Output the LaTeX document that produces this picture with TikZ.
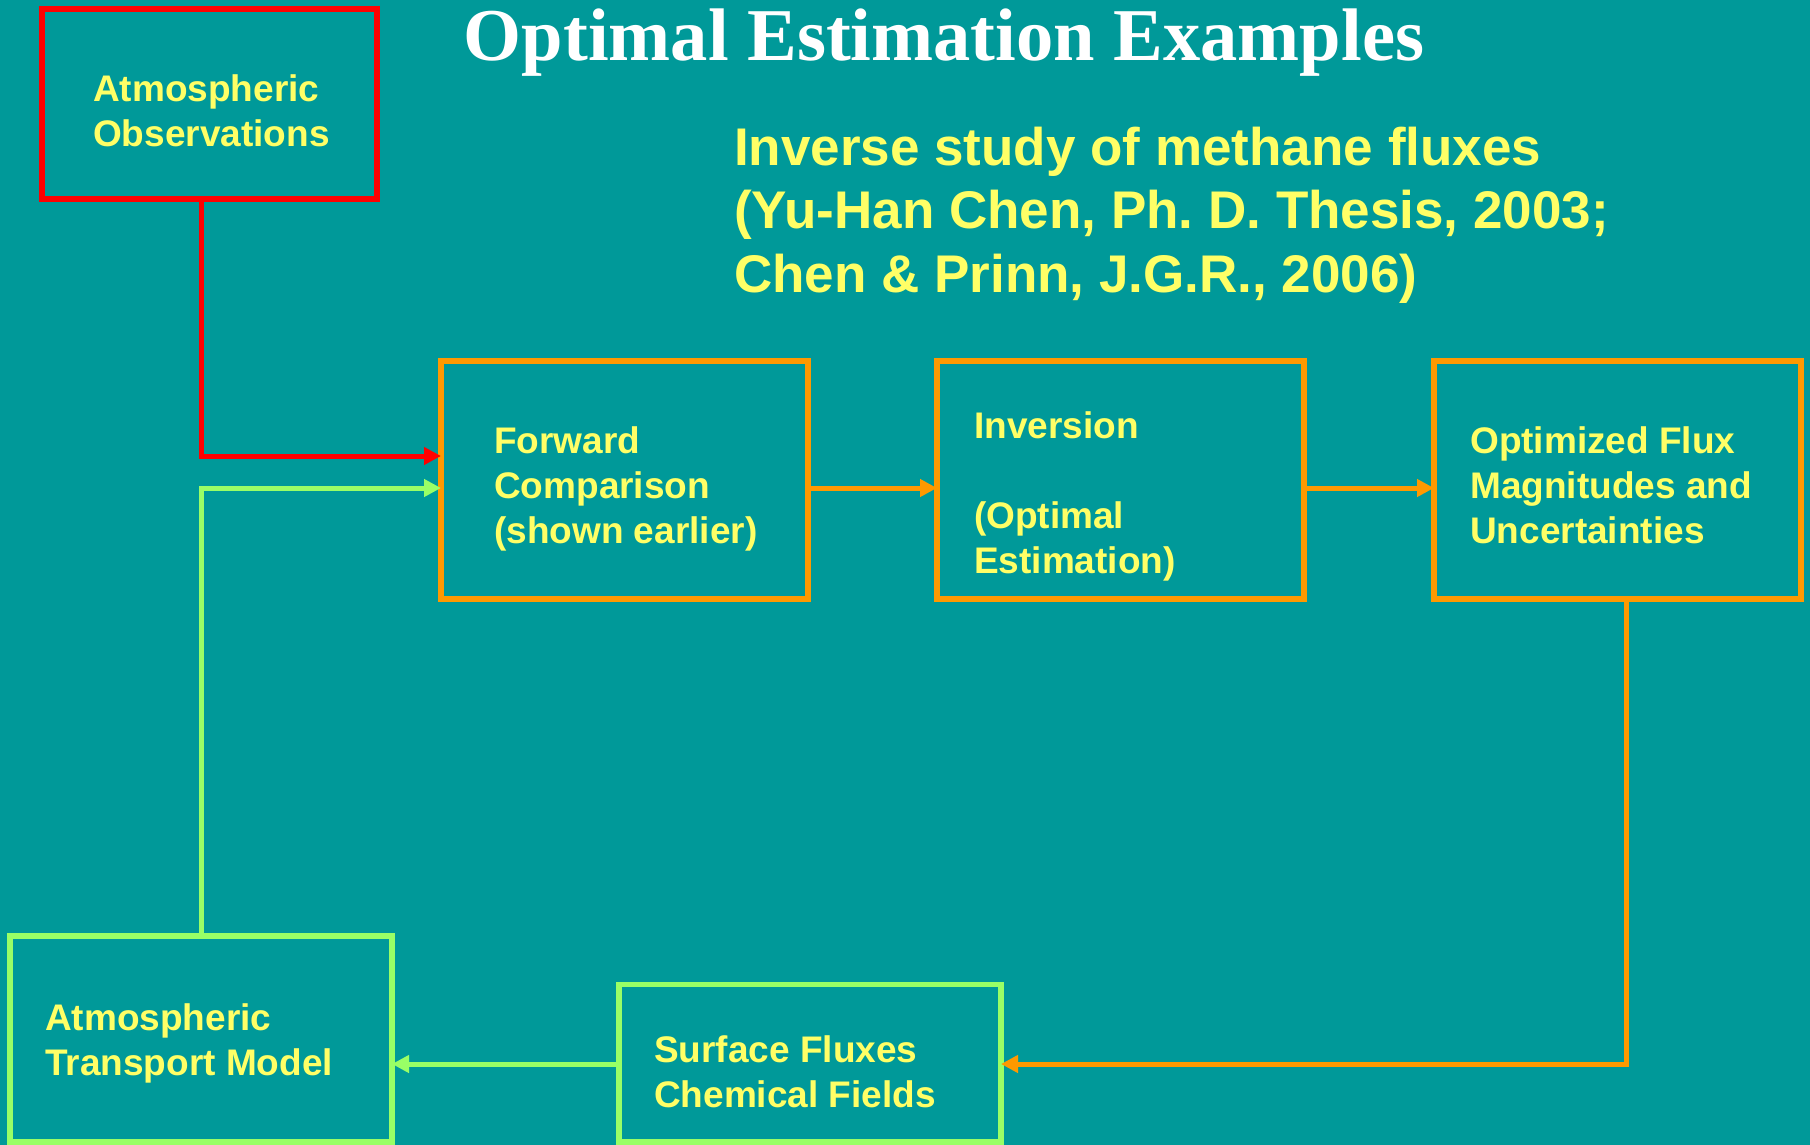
\documentclass[tikz,border=0pt]{standalone}
\usepackage{fontspec}
\setmainfont{Liberation Sans}
\newfontfamily\titlefont{Liberation Serif}
\usetikzlibrary{arrows.meta}
\definecolor{bg}{RGB}{0,153,153}
\definecolor{txt}{RGB}{255,255,102}
\definecolor{redc}{RGB}{255,0,0}
\definecolor{orangec}{RGB}{255,153,0}
\definecolor{greenc}{RGB}{153,255,102}
\frenchspacing
\begin{document}
\begin{tikzpicture}[x=1pt,y=-1pt,
  box/.style={draw, line width=5.5pt, outer sep=0pt, inner sep=0pt, rectangle},
  lbl/.style={anchor=base west, inner sep=0pt, text=txt, font=\bfseries\fontsize{37}{45}\selectfont},
  conn/.style={line width=5pt, -{Triangle[length=17pt,width=17pt]}},
]
\fill[bg] (0,0) rectangle (1810,1145);
\useasboundingbox (0,0) rectangle (1810,1145);

% boxes
\node[box, draw=redc, minimum width=335pt, minimum height=190pt] (obs) at (209.5,104) {};
\node[box, draw=orangec, minimum width=367pt, minimum height=238pt] (fwd) at (624.5,480) {};
\node[box, draw=orangec, minimum width=367pt, minimum height=238pt] (inv) at (1120.5,480) {};
\node[box, draw=orangec, minimum width=367pt, minimum height=238pt] (opt) at (1617.5,480) {};
\node[box, draw=greenc, minimum width=382pt, minimum height=206pt] (tm) at (201,1039) {};
\node[box, draw=greenc, minimum width=382pt, minimum height=157.5pt] (sf) at (810,1063.25) {};

% texts
\node[anchor=base, inner sep=0pt, text=white, font=\titlefont\bfseries\fontsize{74.5}{80}\selectfont] (title) at (944,61) {Optimal Estimation Examples};
\node[anchor=base west, inner sep=0pt, text=txt, font=\bfseries\fontsize{53}{63.5}\selectfont] (sub) at (734,165)
  {\begin{tabular}[t]{@{}l@{}}Inverse study of methane fluxes\\(Yu-Han Chen, Ph. D. Thesis, 2003;\\Chen \& Prinn, J.G.R., 2006)\end{tabular}};
\node[lbl] (obst) at (93,101.7) {\begin{tabular}[t]{@{}l@{}}Atmospheric\\Observations\end{tabular}};
\node[lbl] (fwdt) at (494,453) {\begin{tabular}[t]{@{}l@{}}Forward\\Comparison\\(shown earlier)\end{tabular}};
\node[lbl] (invt) at (974,438.3) {\begin{tabular}[t]{@{}l@{}}Inversion\\ \\(Optimal\\Estimation)\end{tabular}};
\node[lbl] (optt) at (1470,453) {\begin{tabular}[t]{@{}l@{}}Optimized Flux\\Magnitudes and\\Uncertainties\end{tabular}};
\node[lbl] (tmt) at (45,1030) {\begin{tabular}[t]{@{}l@{}}Atmospheric\\Transport Model\end{tabular}};
\node[lbl] (sft) at (654,1062) {\begin{tabular}[t]{@{}l@{}}Surface Fluxes\\Chemical Fields\end{tabular}};

% connectors
\coordinate (rc) at (201,456);
\coordinate (gc) at (201,488);
\coordinate (oc) at (1626,1064);
\draw[conn, redc] (obs.south -| rc) |- (fwd.west |- rc);
\draw[conn, greenc] (tm.north -| gc) |- (fwd.west |- gc);
\draw[conn, orangec] (fwd.east |- gc) -- (inv.west |- gc);
\draw[conn, orangec] (inv.east |- gc) -- (opt.west |- gc);
\draw[conn, orangec] (opt.south -| oc) |- (sf.east |- oc);
\draw[conn, greenc] (sf.west |- oc) -- (tm.east |- oc);
\end{tikzpicture}
\end{document}
